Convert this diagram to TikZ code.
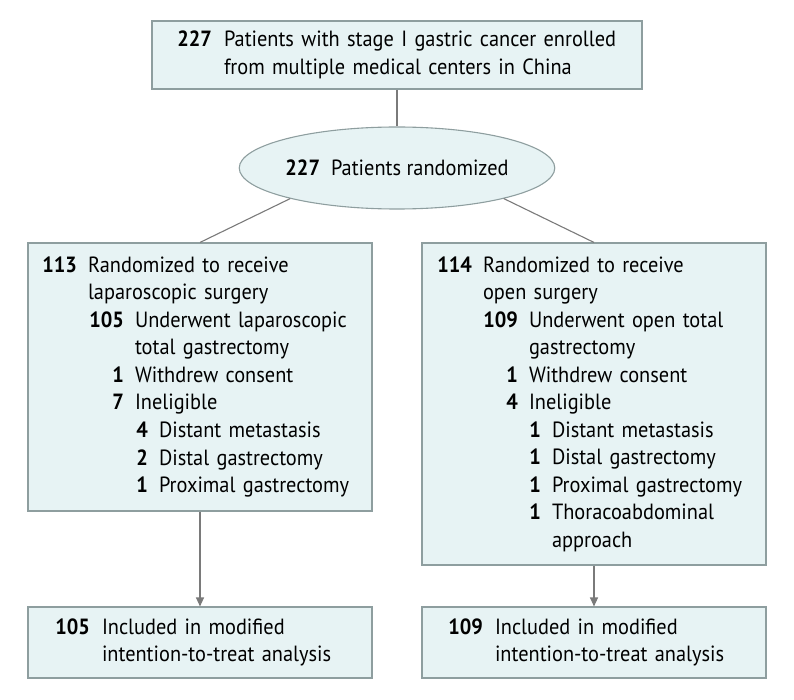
\documentclass[tikz,border=0pt]{standalone}
\usepackage{fontspec}
\setmainfont{PT Sans}[FakeStretch=0.925]
\usetikzlibrary{shapes.geometric,arrows.meta}
\definecolor{boxfill}{HTML}{E7F3F4}
\definecolor{boxline}{HTML}{8E9E9F}
\definecolor{conn}{HTML}{7A7A7A}
\newcommand{\numline}[4]{\makebox[#1][r]{\bfseries #3}\hspace{\dimexpr #2-#1\relax}#4}
\newcommand{\contline}[2]{\hspace*{#1}#2}
\begin{document}
\begin{tikzpicture}[x=1pt,y=-1pt,
  box/.style={draw=boxline, fill=boxfill, line width=1.1pt, rectangle, inner xsep=0pt, inner ysep=0pt,
    align=left, font=\fontsize{22}{27.5}\selectfont},
  oval/.style={draw=boxline, fill=boxfill, line width=1.1pt, ellipse, inner sep=0pt,
    font=\fontsize{22}{27.5}\selectfont},
  link/.style={draw=conn, line width=1.1pt},
  arrowlink/.style={link, -{Triangle[length=9pt,width=8pt]}}]
\useasboundingbox (0,0) rectangle (794,700);

\node[box, minimum width=490pt, minimum height=68pt, text width=490pt] (top) at (397,55)
 {\numline{60pt}{72pt}{227}{Patients with stage I gastric cancer enrolled}\\
  \contline{72pt}{from multiple medical centers in China}};

\node[oval, minimum width=283pt, minimum height=82pt] (rand) at (397,168)
 {\textbf{227}\hspace{11pt}Patients randomized};

\node[box, minimum width=344pt, minimum height=268pt, text width=344pt] (lap) at (200,377)
 {\numline{49pt}{60pt}{113}{Randomized to receive}\\
  \contline{60pt}{laparoscopic surgery}\\
  \hspace*{47pt}\numline{49pt}{60pt}{105}{Underwent laparoscopic}\\
  \contline{107pt}{total gastrectomy}\\
  \hspace*{47pt}\numline{49pt}{60pt}{1}{Withdrew consent}\\
  \hspace*{47pt}\numline{49pt}{60pt}{7}{Ineligible}\\
  \hspace*{71pt}\numline{49pt}{60pt}{4}{Distant metastasis}\\
  \hspace*{71pt}\numline{49pt}{60pt}{2}{Distal gastrectomy}\\
  \hspace*{71pt}\numline{49pt}{60pt}{1}{Proximal gastrectomy}};

\node[box, minimum width=344pt, minimum height=322pt, text width=344pt] (open) at (594,404)
 {\numline{50pt}{61pt}{114}{Randomized to receive}\\
  \contline{61pt}{open surgery}\\
  \hspace*{46pt}\numline{50pt}{61pt}{109}{Underwent open total}\\
  \contline{107pt}{gastrectomy}\\
  \hspace*{46pt}\numline{50pt}{61pt}{1}{Withdrew consent}\\
  \hspace*{46pt}\numline{50pt}{61pt}{4}{Ineligible}\\
  \hspace*{69pt}\numline{50pt}{61pt}{1}{Distant metastasis}\\
  \hspace*{69pt}\numline{50pt}{61pt}{1}{Distal gastrectomy}\\
  \hspace*{69pt}\numline{50pt}{61pt}{1}{Proximal gastrectomy}\\
  \hspace*{69pt}\numline{50pt}{61pt}{1}{Thoracoabdominal}\\
  \contline{130pt}{approach}};

\node[box, minimum width=344pt, minimum height=71pt, text width=344pt] (lapitt) at (200,642.5)
 {\numline{62pt}{74pt}{105}{Included in modified}\\
  \contline{74pt}{intention-to-treat analysis}};

\node[box, minimum width=344pt, minimum height=71pt, text width=344pt] (openitt) at (594,642.5)
 {\numline{61pt}{73pt}{109}{Included in modified}\\
  \contline{73pt}{intention-to-treat analysis}};

\draw[link] (top.south) -- (rand.north);
\draw[link] (rand.196) -- (lap.north);
\draw[link] (rand.344) -- (open.north);
\draw[arrowlink] (lap.south) -- (lapitt.north);
\draw[arrowlink] (open.south) -- (openitt.north);
\end{tikzpicture}
\end{document}
